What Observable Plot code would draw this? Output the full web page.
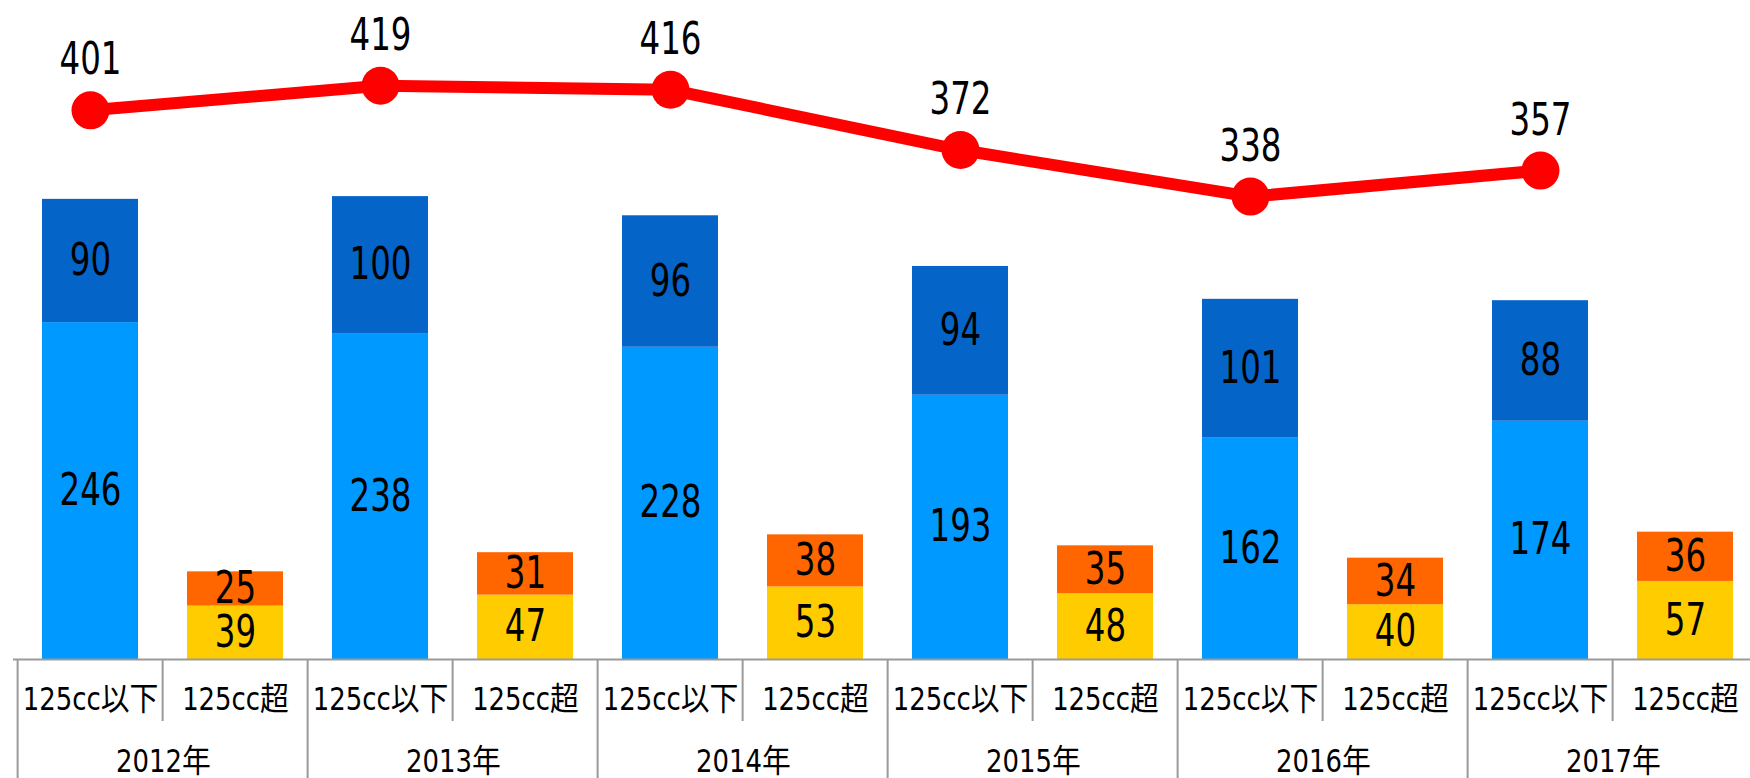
<!DOCTYPE html>
<html>
<head>
<meta charset="utf-8">
<script src="https://cdn.jsdelivr.net/npm/d3@7"></script>
<script src="https://cdn.jsdelivr.net/npm/@observablehq/plot@0.6"></script>
<style>
  html, body { margin: 0; padding: 0; background: #fff; overflow: hidden; }
  #chart svg { overflow: hidden; }
</style>
</head>
<body>
<div id="chart"></div>
<script>
// ---- data ----
const years = ["2012年", "2013年", "2014年", "2015年", "2016年", "2017年"];
const categories = ["125cc以下", "125cc超"];
const smallLower = [246, 238, 228, 193, 162, 174];   // 125cc以下 bottom segment
const smallUpper = [90, 100, 96, 94, 101, 88];       // 125cc以下 top segment
const largeLower = [39, 47, 53, 48, 40, 57];         // 125cc超 bottom segment
const largeUpper = [25, 31, 38, 35, 34, 36];         // 125cc超 top segment
const totals = [401, 419, 416, 372, 338, 357];       // line series

const seriesNames = ["以下A", "以下B", "超A", "超B"];
const seriesColors = ["#0099FF", "#0464C8", "#FFCC00", "#FF6600"];

// ---- derived tables ----
const keys = years.flatMap(y => categories.map(c => y + "|" + c));
const bars = [];
years.forEach((y, i) => {
  bars.push({key: y + "|" + categories[0], series: seriesNames[0], value: smallLower[i]});
  bars.push({key: y + "|" + categories[0], series: seriesNames[1], value: smallUpper[i]});
  bars.push({key: y + "|" + categories[1], series: seriesNames[2], value: largeLower[i]});
  bars.push({key: y + "|" + categories[1], series: seriesNames[3], value: largeUpper[i]});
});
const line = years.map((y, i) => ({key: y + "|" + categories[0], year: y, value: totals[i]}));
const lowerKeys = years.map(y => y + "|" + categories[0]);

const FONT = '"Liberation Sans Narrow", "DejaVu Sans Condensed", "Noto Sans CJK JP", sans-serif';
const step = (1750 + 12 - 13) / keys.length;

const plot = Plot.plot({
  width: 1750,
  height: 778,
  marginLeft: 13,
  marginRight: -12,
  marginTop: 0,
  marginBottom: 119,
  style: {fontFamily: FONT, background: "#fff", overflow: "hidden"},
  x: {domain: keys, paddingInner: 0.34, paddingOuter: 0.17, axis: null},
  y: {domain: [0, 481.2], axis: null},
  color: {domain: seriesNames, range: seriesColors},
  marks: [
    Plot.barY(bars, Plot.stackY({x: "key", y: "value", z: "series", fill: "series"})),
    Plot.text(bars, Plot.stackY({x: "key", y: "value", z: "series", text: "value", fontSize: 44, fill: "#000"})),
    Plot.ruleY([0], {stroke: "#9A9A9A", strokeWidth: 2}),
    // group dividers (full height of the axis area)
    Plot.ruleX(lowerKeys, {x: d => d, dx: -step / 2, insetTop: 659, insetBottom: -119, stroke: "#9A9A9A", strokeWidth: 2}),
    // sub-category dividers
    Plot.ruleX(years.map(y => y + "|" + categories[1]), {x: d => d, dx: -step / 2, insetTop: 659, insetBottom: -62, stroke: "#9A9A9A", strokeWidth: 2}),
    Plot.axisX({tickSize: 0, tickPadding: 28, fontSize: 32, fill: "#000", tickFormat: d => d.split("|")[1], label: null}),
    Plot.text(line, {x: "key", frameAnchor: "bottom", text: "year", dx: step / 2, dy: 112, lineAnchor: "bottom", fontSize: 32, fill: "#000"}),
    Plot.line(line, {x: "key", y: "value", stroke: "#FF0000", strokeWidth: 12}),
    Plot.dot(line, {x: "key", y: "value", r: 19, fill: "#FF0000"}),
    Plot.text(line, {x: "key", y: "value", text: d => String(d.value), dy: -36, lineAnchor: "bottom", fontSize: 44, fill: "#000"})
  ]
});
// narrow the glyphs to match the condensed face of the original
d3.select(plot).selectAll("text").each(function() {
  const fs = +(this.parentNode.getAttribute("font-size") || 0);
  const s = fs >= 40 ? 0.82 : 0.9;
  const t = this.getAttribute("transform");
  if (t) {
    this.setAttribute("transform", t + ` scale(${s},1)`);
  } else {
    const x = +(this.getAttribute("x") || 0);
    this.setAttribute("transform", `translate(${x},0) scale(${s},1) translate(${-x},0)`);
  }
});
document.getElementById("chart").appendChild(plot);
</script>
</body>
</html>
